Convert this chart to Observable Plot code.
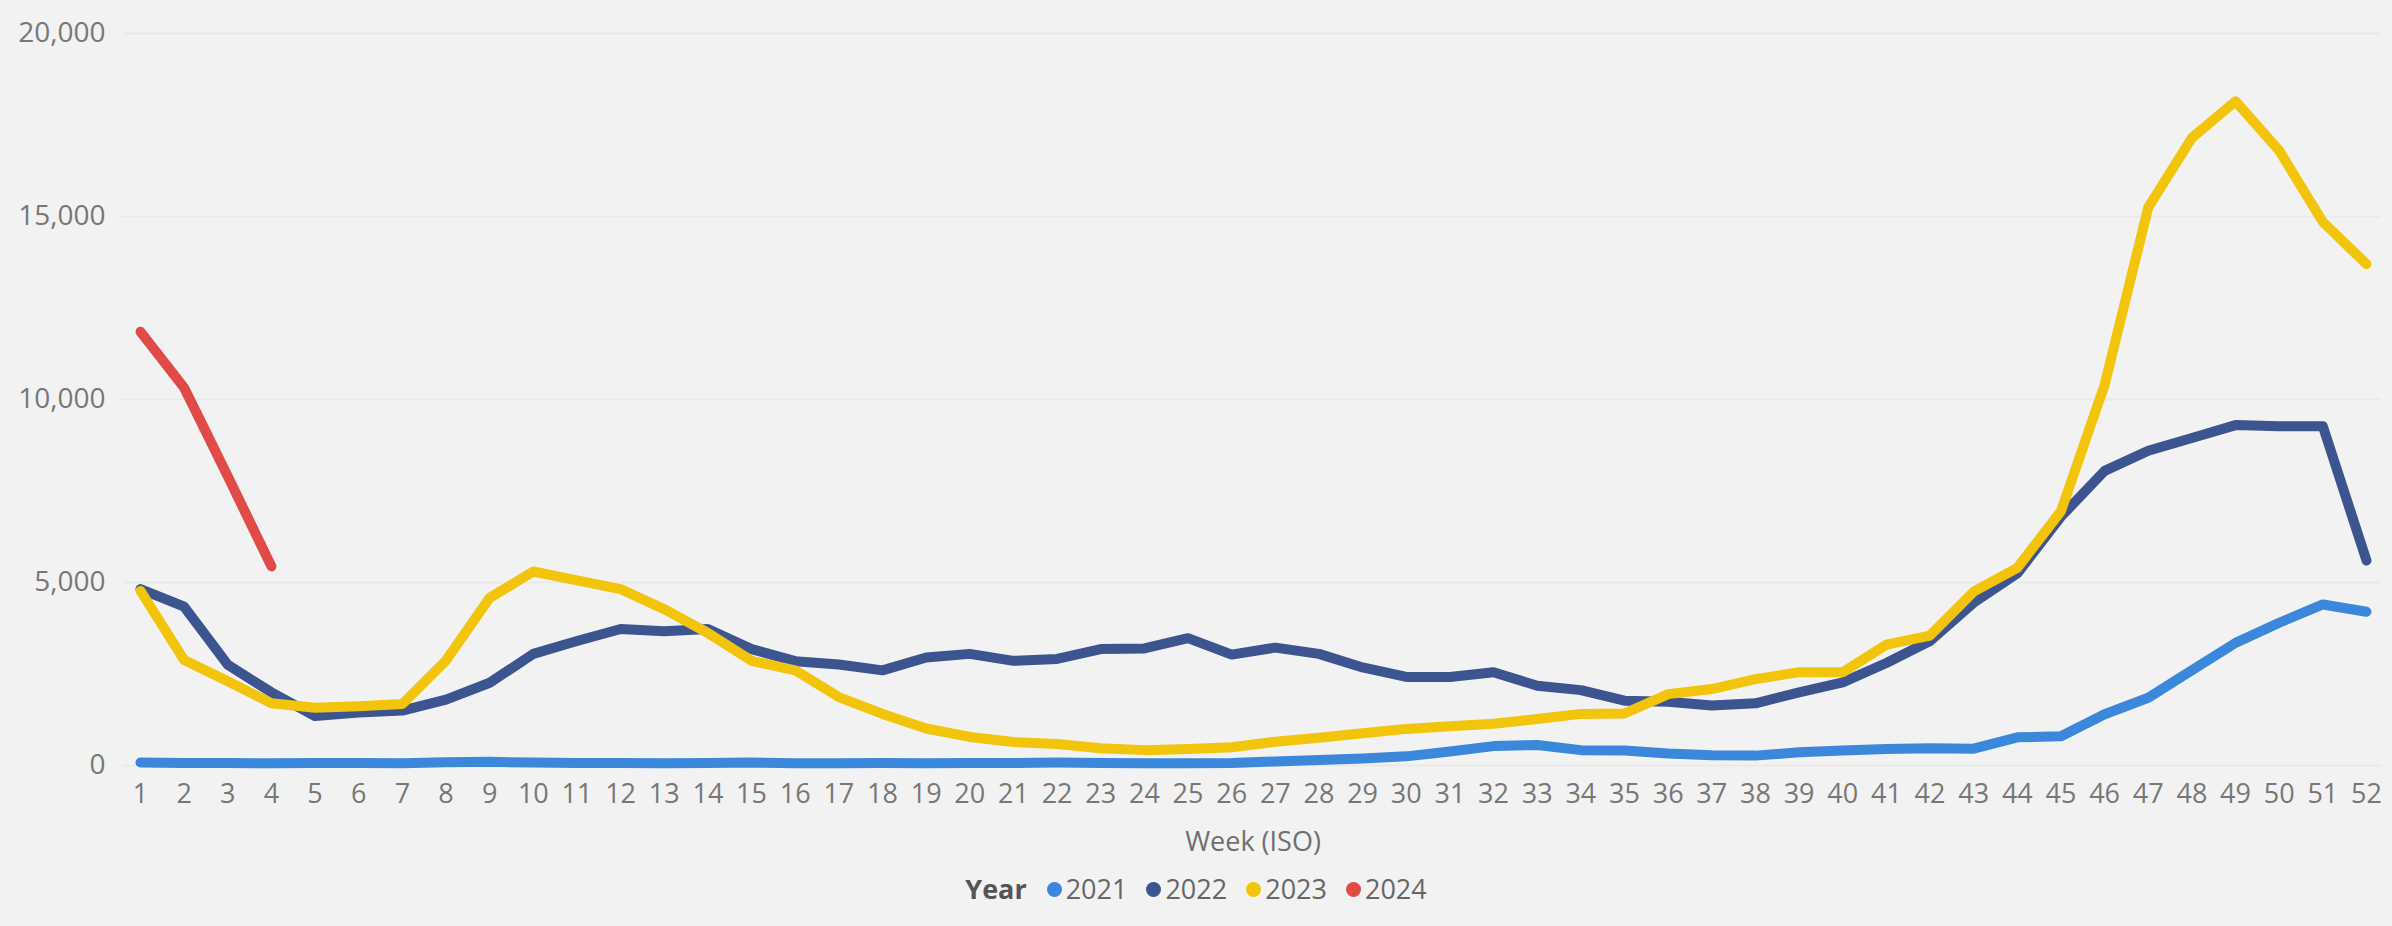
<!DOCTYPE html>
<html>
<head>
<meta charset="utf-8">
<script src="https://cdn.jsdelivr.net/npm/d3@7"></script>
<script src="https://cdn.jsdelivr.net/npm/@observablehq/plot@0.6"></script>
<style>
  html, body { margin: 0; padding: 0; background: #f2f2f2; }
  body { width: 2392px; height: 926px; position: relative; overflow: hidden; font-family: "Open Sans", "Noto Sans", sans-serif; }
  #chart { position: absolute; left: 0; top: 0; }
  #xlabel { position: absolute; left: 140px; width: 2226px; top: 823px; height: 36px; line-height: 36px; text-align: center; font-size: 27px; color: #6f6f6f; }
  #legend { position: absolute; left: 0; width: 2392px; top: 871px; height: 36px; line-height: 36px; display: flex; justify-content: center; align-items: center; font-size: 27px; color: #666; }
  #legend .title { font-weight: 700; color: #555; margin-right: 20px; }
  #legend .item { display: flex; align-items: center; margin-right: 19px; }
  #legend .item:last-child { margin-right: 0; }
  #legend .dot { width: 15px; height: 15px; border-radius: 50%; margin-right: 4px; }
  svg [aria-label="y-axis tick label"] { font-size: 28px; }
</style>
</head>
<body>
<div id="chart"></div>
<div id="xlabel">Week (ISO)</div>
<div id="legend"></div>
<script>
const weeks = [1,2,3,4,5,6,7,8,9,10,11,12,13,14,15,16,17,18,19,20,21,22,23,24,25,26,
               27,28,29,30,31,32,33,34,35,36,37,38,39,40,41,42,43,44,45,46,47,48,49,50,51,52];
const years = ["2021", "2022", "2023", "2024"];
const colors = ["#3a87db", "#3c5591", "#f2c40c", "#e04b47"];
const yTicks = [0, 5000, 10000, 15000, 20000];

const v2021 = [80,70,70,60,70,70,60,90,100,80,70,70,60,70,80,60,60,70,60,70,70,80,70,60,60,70,
               110,150,190,250,380,530,560,420,410,330,280,270,360,410,450,470,460,770,800,1400,1850,2600,3350,3900,4400,4200];
const v2022 = [4820,4340,2750,2000,1350,1450,1500,1800,2260,3050,3400,3730,3670,3730,3180,2850,2760,2600,2950,3050,2860,2910,3180,3200,3480,3030,
               3220,3050,2680,2420,2420,2550,2180,2060,1770,1740,1640,1700,2000,2270,2800,3400,4450,5250,6800,8050,8600,8950,9300,9270,9270,5600];
const v2023 = [4770,2880,2300,1700,1580,1620,1680,2870,4580,5300,5060,4820,4270,3620,2860,2600,1870,1410,1010,780,640,590,470,420,450,500,
               650,760,880,1000,1070,1140,1270,1410,1420,1950,2090,2360,2550,2550,3300,3550,4750,5400,6950,10400,15250,17150,18150,16800,14850,13700];
const v2024 = [11850,10320,7900,5440];

const series = [v2021, v2022, v2023, v2024];
const rows = years.flatMap((yr, i) => series[i].map((v, j) => ({week: weeks[j], value: v, year: yr})));

const chart = Plot.plot({
  width: 2392,
  height: 815,
  marginTop: 33,
  marginBottom: 50,
  marginLeft: 122,
  marginRight: 12,
  style: {background: "transparent", fontFamily: "'Open Sans', 'Noto Sans', sans-serif", fontSize: "27px", color: "#777"},
  x: {domain: [1, 52], insetLeft: 18, insetRight: 14},
  y: {domain: [0, 20000]},
  color: {domain: years, range: colors},
  marks: [
    Plot.gridY(yTicks, {stroke: "#e9e9e9", strokeOpacity: 1, strokeWidth: 2}),
    Plot.axisY(yTicks, {tickSize: 0, tickPadding: 17, tickFormat: d3.format(","), label: null}),
    Plot.axisX(weeks, {tickSize: 0, tickPadding: 18, tickFormat: d => String(d), label: null}),
    Plot.line(rows, {x: "week", y: "value", z: "year", stroke: "year", strokeWidth: 10, strokeLinecap: "round", strokeLinejoin: "round"})
  ]
});
document.getElementById("chart").appendChild(chart);

const legend = document.getElementById("legend");
const t = document.createElement("span");
t.className = "title";
t.textContent = "Year";
legend.appendChild(t);
years.forEach((yr, i) => {
  const item = document.createElement("span");
  item.className = "item";
  const dot = document.createElement("span");
  dot.className = "dot";
  dot.style.background = colors[i];
  const lab = document.createElement("span");
  lab.textContent = yr;
  item.appendChild(dot);
  item.appendChild(lab);
  legend.appendChild(item);
});
</script>
</body>
</html>
